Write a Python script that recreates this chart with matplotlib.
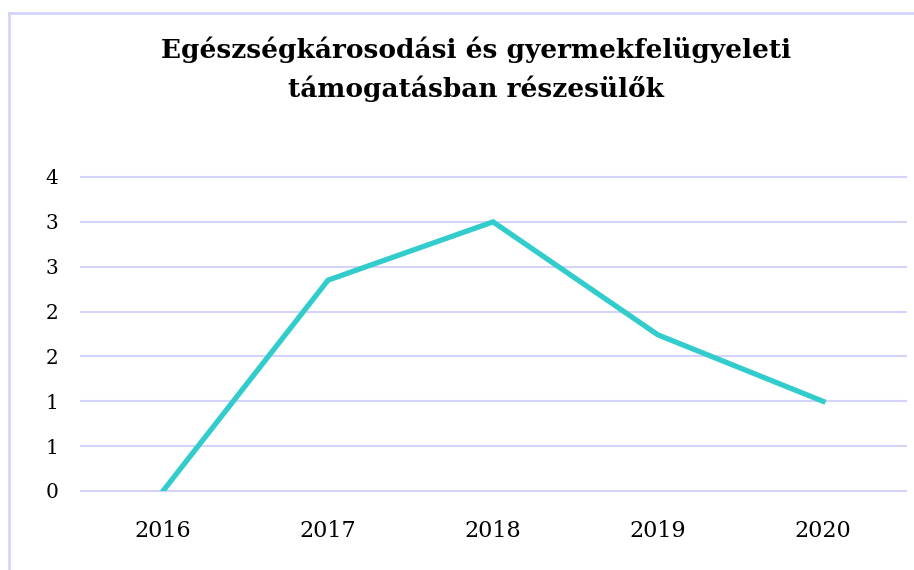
import matplotlib.pyplot as plt
from matplotlib.lines import Line2D

years = ['2016', '2017', '2018', '2019', '2020']
values = [0, 2.35, 3.0, 1.74, 1.0]

y_ticks = [0, 0.5, 1, 1.5, 2, 2.5, 3, 3.5]
y_labels = ['0', '1', '1', '2', '2', '3', '3', '4']

title = 'Egészségkárosodási és gyermekfelügyeleti\ntámogatásban részesülők'

plt.rcParams['font.family'] = ['DejaVu Serif']

fig = plt.figure(figsize=(9.14, 5.7), dpi=100)
ax = fig.add_axes([80.5 / 914, 79 / 570, 825 / 914, 314 / 570])

x = range(len(years))
ax.plot(x, values, color='#33CCCC', linewidth=3.8, solid_joinstyle='miter', zorder=3)

ax.set_xlim(-0.5, len(years) - 0.5)
ax.set_ylim(0, 3.5)
ax.set_xticks(list(x))
ax.set_xticklabels(years, fontsize=16)
ax.set_yticks(y_ticks)
ax.set_yticklabels(y_labels, fontsize=14.5)
ax.tick_params(axis='x', length=0, pad=21)
ax.tick_params(axis='y', length=0, pad=16)

ax.grid(axis='y', color='#D4D4FA', linewidth=1.5)
for gl in ax.get_ygridlines():
    gl.set_clip_on(False)
ax.set_axisbelow(True)
for s in ax.spines.values():
    s.set_visible(False)

fig.text(476 / 914, 1 - 69 / 570, title, ha='center', va='center',
         fontsize=19, fontweight='bold', linespacing=1.6)

# light outer frame (top and left edges visible)
fig.add_artist(Line2D([9 / 914, 1], [1 - 13 / 570, 1 - 13 / 570], color='#D4D4FA', linewidth=2))
fig.add_artist(Line2D([9 / 914, 9 / 914], [0, 1 - 13 / 570], color='#D4D4FA', linewidth=2))

fig.savefig('out.png', dpi=100)
